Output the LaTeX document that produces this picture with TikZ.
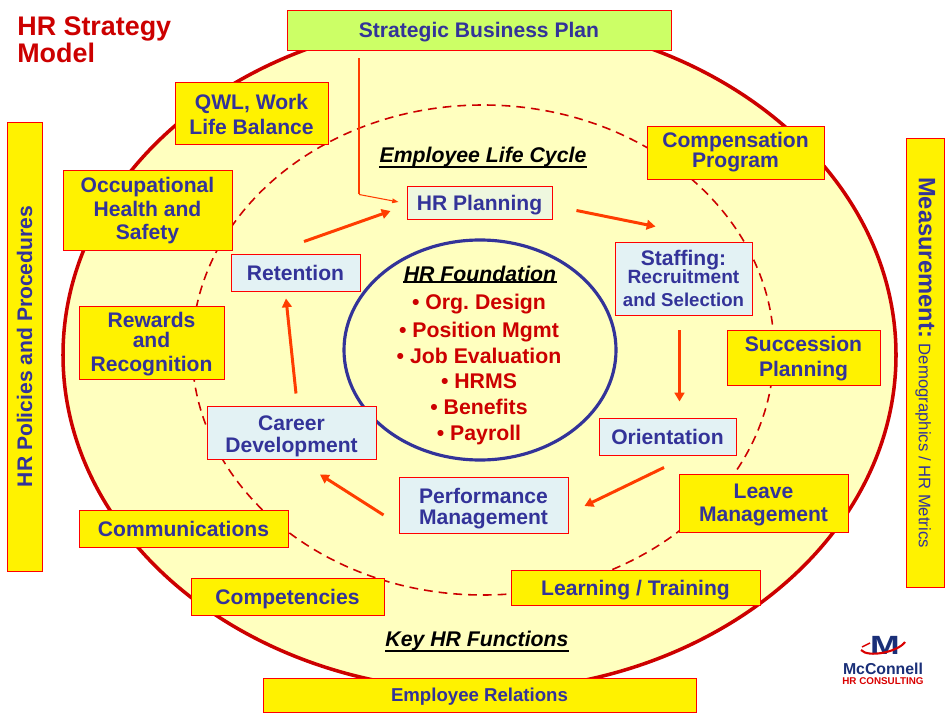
\documentclass[tikz,border=0pt]{standalone}
\usepackage{fontspec, graphicx}
\setmainfont{Liberation Sans}
\frenchspacing
\usetikzlibrary{arrows.meta, calc}
\definecolor{hrtext}{HTML}{333399}
\definecolor{hrred}{HTML}{CC0000}
\definecolor{hrarrow}{HTML}{FF3D00}
\definecolor{hrcream}{HTML}{FFFFBF}
\definecolor{hrpale}{HTML}{E3F2F4}
\definecolor{hrgreen}{HTML}{CCFF66}
\definecolor{hrnavy}{HTML}{1A2F78}
\newcommand{\pxfont}[2]{\fontsize{#1}{#2}\selectfont\bfseries}
\newcommand{\hrpush}[1]{\rule{0pt}{#1pt}}
\tikzset{
  hrsize/.style 2 args={minimum width=#1*0.02cm, minimum height=#2*0.02cm},
  oneline/.style={text height=8.6pt, text depth=0pt},
  hrbox/.style={draw=red, line width=0.55pt, inner sep=0pt, align=center, text=hrtext, font=\pxfont{12}{13.5}},
  factor/.style={hrbox, fill=yellow},
  stage/.style={hrbox, fill=hrpale},
  flow/.style={draw=hrarrow, line width=1.7pt, -{Triangle[length=5pt,width=5.5pt]}},
  heading/.style={inner sep=0pt, font=\pxfont{12.1}{13}\itshape},
  headline/.style={line width=1pt},
  item/.style={inner sep=0pt, oneline, text=hrred, font=\pxfont{12.1}{13}}
}
\begin{document}
\begin{tikzpicture}[x=0.02cm, y=-0.02cm]
\useasboundingbox (0,0) rectangle (950,716);
\draw[draw=hrred, fill=hrcream, line width=2pt] (479.5,355) ellipse (416.5 and 336);
\draw[draw=hrred, line width=0.9pt, dash pattern=on 5pt off 3.4pt] (483,350) ellipse (291 and 245);
\draw[draw=hrtext, line width=1.8pt] (480,350) ellipse (136 and 110);

\node[inner sep=0pt, anchor=north west, align=left, text=hrred, font=\pxfont{15.3}{14.3}] (title) at (17,16.5) {HR Strategy\\Model};

\node[factor, oneline, fill=hrgreen, hrsize={384}{40}] (StrategicPlan) at (479,30) {Strategic Business Plan};
\node[factor, hrsize={153}{62}] (QWL) at (251.5,113) {\hrpush{10}QWL, Work\\[0.8pt]Life Balance};
\node[factor, hrsize={169}{80}] (Occupational) at (147.5,210) {\hrpush{9.6}Occupational\\Health and\\Safety};
\node[factor, hrsize={177}{53}] (Compensation) at (735.5,152.5) {Compensation\\[-2.2pt]Program};
\node[factor, hrsize={145}{73}] (Rewards) at (151.5,342.5) {\hrpush{10.5}Rewards\\[-2pt]and\\Recognition};
\node[factor, oneline, hrsize={209}{37}] (Communications) at (183.5,528.5) {Communications};
\node[factor, oneline, hrsize={193}{37}] (Competencies) at (287.5,596.5) {Competencies};
\node[factor, oneline, hrsize={249}{35}] (Learning) at (635.5,587.5) {Learning / Training};
\node[factor, hrsize={169}{58}] (Leave) at (763.5,503) {\hrpush{10}Leave\\[-0.4pt]Management};
\node[factor, hrsize={153}{55}] (Succession) at (803.5,357.5) {\hrpush{10}Succession\\[0.8pt]Planning};
\node[factor, hrsize={433}{34}, text height=7.6pt, text depth=0pt, font=\pxfont{10.6}{12}] (EmployeeRelations) at (479.5,695) {Employee Relations};
\node[factor, oneline, hrsize={449}{35}, rotate=90] (Policies) at (24.5,346.5) {HR Policies and Procedures};
\node[factor, hrsize={449}{38}, text height=7pt, text depth=0pt, rotate=-90] (Measurement) at (925,362.5) {{\pxfont{13.5}{15}Measurement:} {\fontsize{9.5}{11}\selectfont\mdseries Demographics / HR Metrics}};

\node[stage, oneline, fill=hrpale!60!hrcream, hrsize={145}{33}] (HRPlanning) at (479.5,202.5) {HR Planning};
\node[stage, hrsize={137}{73}] (Staffing) at (683.5,278.5) {Staffing:\\[-3pt]{\pxfont{10.9}{12}Recruitment}\\[-0.3pt]{\pxfont{10.6}{12}and Selection}};
\node[stage, oneline, hrsize={137}{37}] (Orientation) at (667.5,436.5) {Orientation};
\node[stage, hrsize={169}{56}] (Performance) at (483.5,505) {\hrpush{12.7}Performance\\[-1.6pt]Management};
\node[stage, hrsize={169}{53}] (Career) at (291.5,432.5) {\hrpush{12.7}Career\\[-1pt]Development};
\node[stage, oneline, hrsize={129}{37}] (Retention) at (295.5,272.5) {Retention};

\node[heading] (LifeCycle) at (483,157) {Employee Life Cycle};
\node[heading] (Foundation) at (480,273.5) {HR Foundation};
\node[heading] (KeyFunctions) at (477,641) {Key HR Functions};
\draw[headline] (LifeCycle.south west) -- (LifeCycle.south east);
\draw[headline] (Foundation.south west) -- (Foundation.south east);
\draw[headline] (KeyFunctions.south west) -- (KeyFunctions.south east);

\node[item] (OrgDesign) at (479,302) {• Org. Design};
\node[item] (PositionMgmt) at (479,330) {• Position Mgmt};
\node[item] (JobEvaluation) at (479,356) {• Job Evaluation};
\node[item] (HRMS) at (479,381) {• HRMS};
\node[item] (Benefits) at (479,407) {• Benefits};
\node[item] (Payroll) at (479,433) {• Payroll};

\draw[flow] ($(HRPlanning.east)+(24,8)$) -- ($(Staffing.north)+(-28,-15)$);
\draw[flow] ($(Staffing.south)+(-4,15)$) -- ($(Orientation.north)+(12,-16)$);
\draw[flow] ($(Orientation.south)+(-3.5,12)$) -- ($(Performance.east)+(16,1)$);
\draw[flow] ($(Performance.west)+(-15,10)$) -- ($(Career.south)+(28.5,15)$);
\draw[flow] ($(Career.north)+(4.5,-12)$) -- ($(Retention.south)+(-9.5,7)$);
\draw[flow] ($(Retention.north)+(8.5,-12)$) -- ($(HRPlanning.west)+(-16,8.5)$);
\coordinate (PlanBend) at ($(StrategicPlan.south)+(-120,144)$);
\draw[draw=hrarrow, line width=1pt] ($(StrategicPlan.south)+(-120,8)$) -- (PlanBend);
\draw[draw=hrarrow, line width=0.6pt, -{Triangle[length=3.6pt,width=2.6pt]}] (PlanBend) -- ($(HRPlanning.west)+(-8,-0.5)$);

\node[inner sep=0pt, text=hrnavy, font=\pxfont{15}{16}] (LogoM) at (885,645.5) {\scalebox{1.35}[1]{M}};
\draw[draw=red!85!black, line width=1.2pt] (861,650) .. controls (868,658) and (898,652) .. (905,642);
\draw[draw=red!85!black, line width=0.8pt] (862,647) -- (870,643);
\node[inner sep=0pt, text=hrnavy, font=\pxfont{9}{10}] (LogoName) at (883,669) {McConnell};
\node[inner sep=0pt, text=red!85!black, font=\pxfont{5.6}{6}] (LogoSub) at (883,681) {HR CONSULTING};
\end{tikzpicture}
\end{document}
